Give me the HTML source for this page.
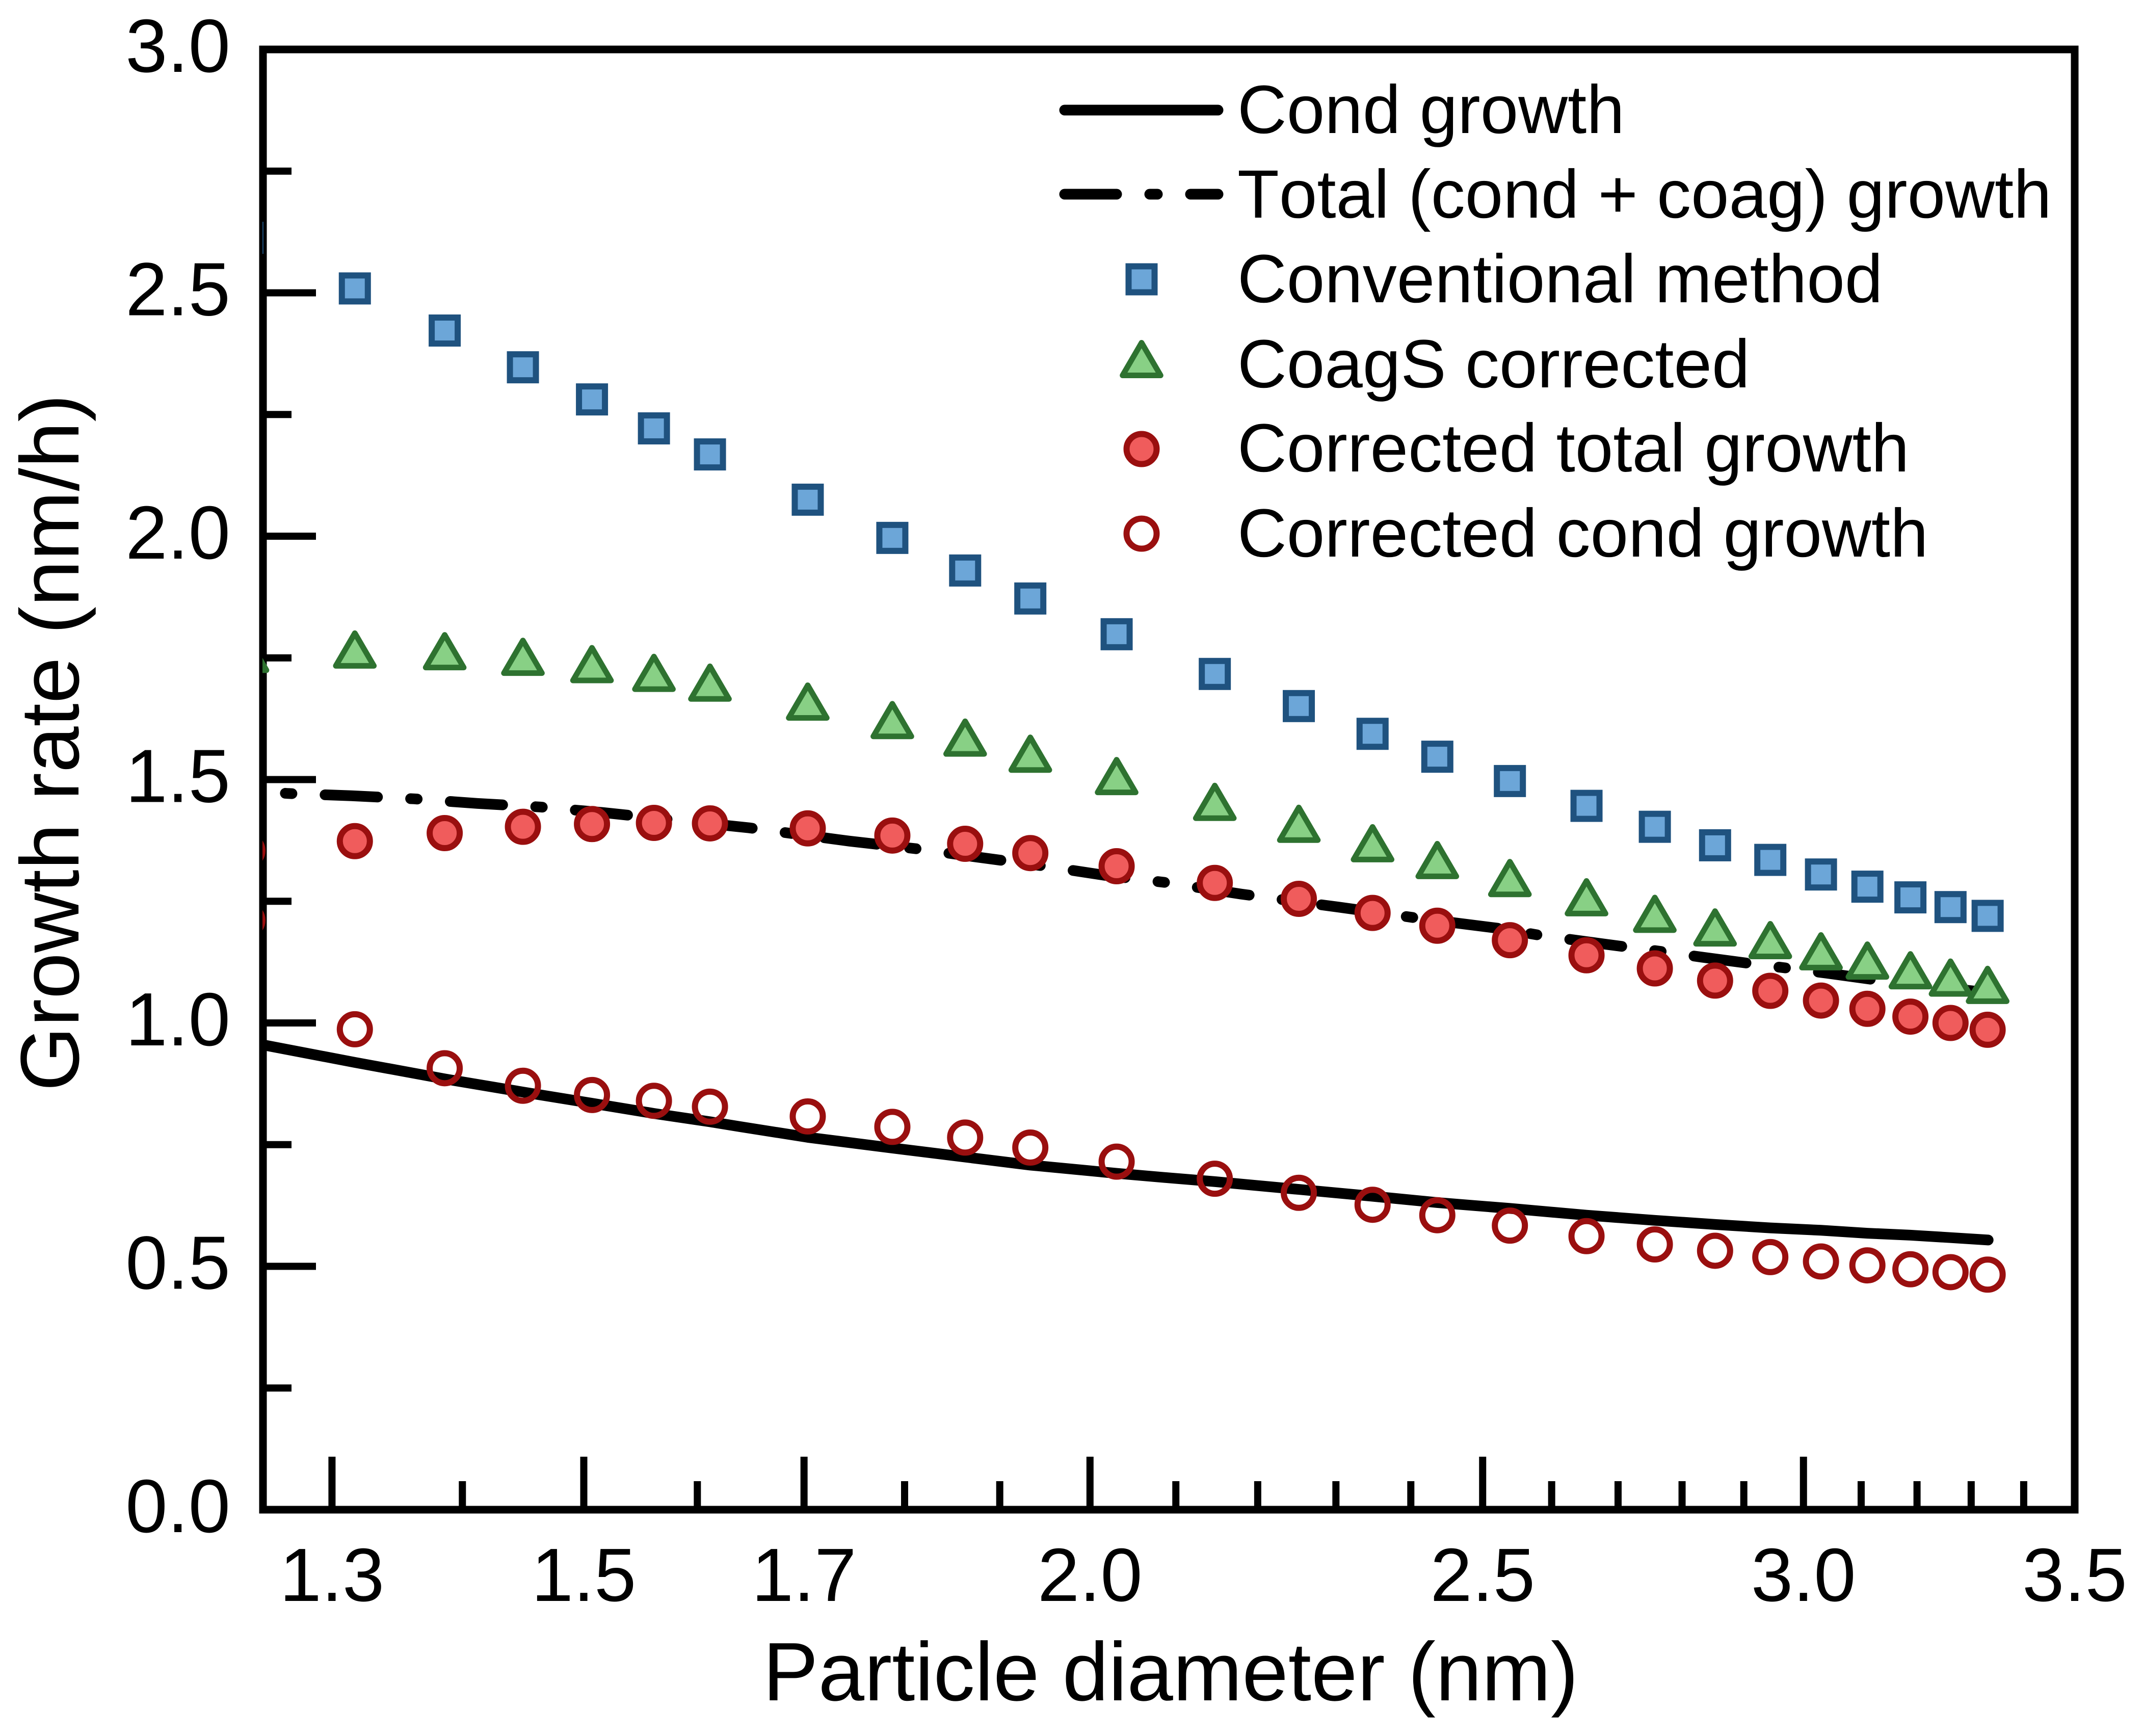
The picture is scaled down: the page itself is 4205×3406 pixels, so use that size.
<!DOCTYPE html>
<html lang="en">
<head>
<meta charset="utf-8">
<title>Growth rate vs particle diameter</title>
<style>
html,body{margin:0;padding:0;background:#fff;}
svg{display:block;}
text{font-family:"Liberation Sans",Arial,sans-serif;fill:#000;text-rendering:geometricPrecision;font-kerning:none;font-feature-settings:"kern" 0;}
</style>
</head>
<body>
<svg id="chart" xmlns="http://www.w3.org/2000/svg" width="4205" height="3406" viewBox="0 0 4205 3406">
  <rect width="4205" height="3406" fill="#ffffff"/>
  <defs><clipPath id="plot-clip"><rect x="515" y="97" width="3556" height="2865"/></clipPath></defs>
  <rect x="516" y="97" width="3555" height="2865" fill="none" stroke="#000" stroke-width="15"/>
  <g id="tick-layer"></g>
  <g id="series-layer" clip-path="url(#plot-clip)"></g>
  <text x="1497" y="3336" font-size="162.7">Particle diameter (nm)</text>
  <text transform="translate(154,2141) rotate(-90)" font-size="163">Growth rate (nm/h)</text>

  <g>
    <g>
      <line x1="2089" y1="216" x2="2390" y2="216" stroke="#000" stroke-width="21" stroke-linecap="round"/>
      <text x="2428" y="261" font-size="134">Cond growth</text>
    </g>
    <g>
      <line x1="2089" y1="381" x2="2191" y2="381" stroke="#000" stroke-width="21" stroke-linecap="round"/>
      <line x1="2256" y1="381" x2="2271" y2="381" stroke="#000" stroke-width="21" stroke-linecap="round"/>
      <line x1="2336" y1="381" x2="2390" y2="381" stroke="#000" stroke-width="21" stroke-linecap="round"/>
      <text x="2428" y="427" font-size="134">Total (cond + coag) growth</text>
    </g>
    <g>
      <rect x="2214.5" y="522.5" width="51" height="51" fill="#6CA6D8" stroke="#1F527F" stroke-width="12"/>
      <text x="2428" y="593" font-size="134">Conventional method</text>
    </g>
    <g>
      <path d="M2240 672.5L2277.3 736.5L2202.7 736.5Z" fill="#88D085" stroke="#2E7230" stroke-width="11" stroke-linejoin="round"/>
      <text x="2428" y="760" font-size="134">CoagS corrected</text>
    </g>
    <g>
      <circle cx="2240" cy="881" r="29.5" fill="#F05C5C" stroke="#9A0F0F" stroke-width="12"/>
      <text x="2428" y="925" font-size="134">Corrected total growth</text>
    </g>
    <g>
      <circle cx="2240" cy="1047" r="29.5" fill="none" stroke="#9A0F0F" stroke-width="12"/>
      <text x="2428" y="1092" font-size="134">Corrected cond growth</text>
    </g>
  </g>
</svg>
<script>
// ---- chart data ----
const diameters = [1.239,1.317,1.386,1.449,1.507,1.561,1.6115,1.7036,1.7875,1.863,1.9333,2.0305,2.147,2.252,2.3484,2.4364,2.539,2.652,2.757,2.853,2.944,3.03,3.111,3.188,3.2615,3.331];
const conventional = [2.613,2.509,2.4225,2.347,2.281,2.2215,2.168,2.075,1.9965,1.9295,1.872,1.7986,1.717,1.651,1.594,1.547,1.497,1.446,1.403,1.365,1.335,1.305,1.28,1.258,1.238,1.22];
const coagsCorrected = [1.747,1.756,1.7525,1.741,1.726,1.708,1.688,1.649,1.611,1.575,1.542,1.496,1.443,1.398,1.358,1.3235,1.2865,1.247,1.213,1.185,1.159,1.136,1.117,1.097,1.082,1.067];
const correctedTotal = [1.354,1.3735,1.39,1.403,1.4086,1.411,1.41,1.3997,1.385,1.368,1.349,1.322,1.2877,1.255,1.226,1.1997,1.17,1.139,1.112,1.087,1.066,1.046,1.029,1.013,1.0,0.986];
const correctedCond = [1.211,0.987,0.907,0.871,0.852,0.84,0.828,0.808,0.7865,0.7645,0.744,0.715,0.68,0.651,0.6265,0.605,0.5836,0.562,0.545,0.532,0.519,0.51,0.502,0.494,0.488,0.483];
const condDiameters = [1.25,1.317,1.386,1.449,1.507,1.561,1.6115,1.639,1.7036,1.7875,1.863,1.9333,2.0305,2.0965,2.147,2.252,2.3484,2.4364,2.539,2.652,2.757,2.853,2.944,3.03,3.111,3.188,3.2615,3.332];
const condGrowth = [0.955,0.919,0.885,0.858,0.835,0.814,0.797,0.787,0.765,0.743,0.7245,0.708,0.691,0.681,0.674,0.658,0.644,0.631,0.619,0.605,0.5945,0.586,0.579,0.574,0.568,0.564,0.559,0.554];
const totalDiameters = [1.25,1.268,1.3144,1.3621,1.4119,1.4633,1.5163,1.6479,1.7446,1.8121,1.8768,1.949,2.0152,2.0871,2.1797,2.3033,2.4033,2.5219,2.5834,2.6755,2.7734,2.831,2.9159,2.9775,3.0394,3.1301,3.3043,3.331];
const totalGrowth = [1.475,1.4714,1.4667,1.4604,1.451,1.4437,1.4322,1.4008,1.3735,1.3578,1.3405,1.3222,1.3038,1.2887,1.2647,1.238,1.2165,1.1945,1.1799,1.1626,1.1458,1.1353,1.1212,1.1118,1.1024,1.0877,1.0657,1.0616];
const xMajorTicks = [1.3,1.5,1.7,2.0,2.5,3.0];
const xMinorTicks = [1.4,1.6,1.8,1.9,2.1,2.2,2.3,2.4,2.6,2.7,2.8,2.9,3.1,3.2,3.3,3.4];
const xTickLabels = ["1.3","1.5","1.7","2.0","2.5","3.0","3.5"];
const xTickLabelValues = [1.3,1.5,1.7,2.0,2.5,3.0,3.5];
const yMajorTicks = [0.5,1.0,1.5,2.0,2.5];
const yMinorTicks = [0.25,0.75,1.25,1.75,2.25,2.75];
const yTickLabels = ["0.0","0.5","1.0","1.5","2.0","2.5","3.0"];
const yTickLabelValues = [0,0.5,1,1.5,2,2.5,3];

// ---- axis functions ----
const xMin = 1.25, xMax = 3.5, yMin = 0, yMax = 3;
const plotLeft = 516, plotRight = 4071, plotTop = 97, plotBottom = 2962;
function xScale(v){ return plotLeft + (Math.log10(v / xMin) / Math.log10(xMax / xMin)) * (plotRight - plotLeft); }
function yScale(v){ return plotBottom - ((v - yMin) / (yMax - yMin)) * (plotBottom - plotTop); }

const NS = "http://www.w3.org/2000/svg";
function make(tag, attrs, parent){
  const el = document.createElementNS(NS, tag);
  for (const k in attrs) el.setAttribute(k, attrs[k]);
  parent.appendChild(el);
  return el;
}
const series = document.getElementById("series-layer");
const ticks = document.getElementById("tick-layer");

function linePoints(xs, ys){
  return xs.map((d, i) => xScale(d).toFixed(1) + "," + yScale(ys[i]).toFixed(1)).join(" ");
}

// lines
const condLine = make("polyline", {points: linePoints(condDiameters, condGrowth), fill: "none", stroke: "#000", "stroke-width": 21, "stroke-linecap": "round", "stroke-linejoin": "round"}, series);


const totalLine = make("polyline", {points: linePoints(totalDiameters, totalGrowth), fill: "none", stroke: "#000", "stroke-width": 21, "stroke-linecap": "round", "stroke-linejoin": "round", "stroke-dasharray": "103 65 13 65", "stroke-dashoffset": 124}, series);



// markers
diameters.forEach((d, i) => {
  const x = xScale(d), y = yScale(conventional[i]);
  const m = make("rect", {x: x - 25.5, y: y - 25.5, width: 51, height: 51, fill: "#6CA6D8", stroke: "#1F527F", "stroke-width": 12}, series);
  
  
});
diameters.forEach((d, i) => {
  const x = xScale(d), y = yScale(coagsCorrected[i]);
  const m = make("path", {d: "M" + x + " " + (y - 42.7) + "L" + (x + 37.3) + " " + (y + 21.3) + "L" + (x - 37.3) + " " + (y + 21.3) + "Z", fill: "#88D085", stroke: "#2E7230", "stroke-width": 11, "stroke-linejoin": "round"}, series);
  
  
});
diameters.forEach((d, i) => {
  const m = make("circle", {cx: xScale(d), cy: yScale(correctedTotal[i]), r: 29.5, fill: "#F05C5C", stroke: "#9A0F0F", "stroke-width": 12}, series);
  
  
});
diameters.forEach((d, i) => {
  const m = make("circle", {cx: xScale(d), cy: yScale(correctedCond[i]), r: 29.5, fill: "none", stroke: "#9A0F0F", "stroke-width": 12}, series);
  
  
});

// ticks
xMajorTicks.forEach(v => {
  const t = make("line", {x1: xScale(v), x2: xScale(v), y1: plotBottom, y2: plotBottom - 104, stroke: "#000", "stroke-width": 14}, ticks);
  
  
});
xMinorTicks.forEach(v => {
  const t = make("line", {x1: xScale(v), x2: xScale(v), y1: plotBottom, y2: plotBottom - 56, stroke: "#000", "stroke-width": 14}, ticks);
  
  
});
yMajorTicks.forEach(v => {
  const t = make("line", {x1: plotLeft, x2: plotLeft + 104, y1: yScale(v), y2: yScale(v), stroke: "#000", "stroke-width": 14}, ticks);
  
  
});
yMinorTicks.forEach(v => {
  const t = make("line", {x1: plotLeft, x2: plotLeft + 56, y1: yScale(v), y2: yScale(v), stroke: "#000", "stroke-width": 14}, ticks);
  
  
});

// tick labels
xTickLabels.forEach((s, i) => {
  const t = make("text", {x: xScale(xTickLabelValues[i]), y: 3141, "font-size": 148, "text-anchor": "middle"}, ticks);
  t.textContent = s;
  
  
});
yTickLabels.forEach((s, i) => {
  const t = make("text", {x: 452, y: yScale(yTickLabelValues[i]) + 44, "font-size": 148, "text-anchor": "end"}, ticks);
  t.textContent = s;
  
  
});
</script>
</body>
</html>
